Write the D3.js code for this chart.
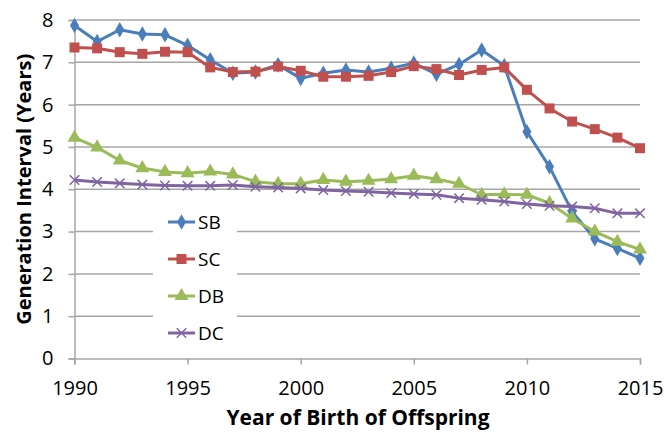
<!DOCTYPE html>
<html><head><meta charset="utf-8">
<script src="https://cdn.jsdelivr.net/npm/d3@7/dist/d3.min.js"></script>
<style>body{margin:0;background:#fff}svg{display:block}</style>
</head><body>
<svg id="c" width="666" height="433"></svg>
<script>
const years = d3.range(1990, 2016);
const seriesNames = ["SB","SC","DB","DC"];
const SB = [7.87,7.49,7.77,7.67,7.65,7.40,7.06,6.74,6.77,6.94,6.62,6.74,6.82,6.77,6.86,6.98,6.72,6.95,7.29,6.92,5.36,4.53,3.47,2.83,2.60,2.37];
const SC = [7.35,7.33,7.24,7.20,7.25,7.24,6.88,6.77,6.78,6.90,6.80,6.66,6.66,6.68,6.77,6.91,6.84,6.70,6.82,6.88,6.35,5.91,5.60,5.42,5.22,4.97];
const DB = [5.22,4.99,4.68,4.50,4.41,4.38,4.42,4.35,4.18,4.13,4.13,4.22,4.18,4.20,4.24,4.32,4.24,4.13,3.87,3.88,3.87,3.67,3.31,3.00,2.76,2.58];
const DC = [4.22,4.17,4.14,4.11,4.09,4.08,4.08,4.10,4.06,4.04,4.02,3.98,3.96,3.94,3.91,3.89,3.87,3.79,3.75,3.71,3.65,3.61,3.59,3.55,3.43,3.43];
const xTicks = [1990,1995,2000,2005,2010,2015];
const yTicks = [0,1,2,3,4,5,6,7,8];
const colors = ["#4A7EBB","#C0504D","#9BBB59","#8064A2"];
const symbols = ["diamond","square","triangle","cross"];
const data = [SB,SC,DB,DC];

const svg = d3.select("#c");
const x = d3.scaleLinear().domain([1990,2015]).range([74.5,640]);
const y = d3.scaleLinear().domain([0,8]).range([358.5,20]);
const font = "'Open Sans', 'Liberation Sans', sans-serif";

// gridlines
svg.append("g").selectAll("line").data(yTicks.filter(d=>d>0)).join("line")
  .attr("x1",x(1990)).attr("x2",x(2015)).attr("y1",d=>y(d)).attr("y2",d=>y(d))
  .attr("stroke","#a6a6a6").attr("stroke-width",1.5);

// axes
const yAxis = svg.append("g").attr("transform",`translate(${x(1990)},0)`)
  .call(d3.axisLeft(y).tickValues(yTicks).tickSize(6).tickPadding(15).tickFormat(d3.format("d")));
const xAxis = svg.append("g").attr("transform",`translate(0,${y(0)})`)
  .call(d3.axisBottom(x).tickValues(xTicks).tickSize(6).tickPadding(16).tickFormat(d3.format("d")));
[yAxis,xAxis].forEach(a=>{
  a.select(".domain").attr("stroke","#a6a6a6").attr("stroke-width",1.5);
  a.selectAll(".tick line").attr("stroke","#a6a6a6").attr("stroke-width",1.5);
  a.selectAll("text").attr("fill","#000").style("font-family",font).style("font-size","20px");
});

// legend box (white, hides gridlines)
svg.append("rect").attr("x",153).attr("y",200).attr("width",84).attr("height",148).attr("fill","#fff");

function sym(i){
  if(symbols[i]==="diamond") return d3.symbol(d3.symbolDiamond, 70)();
  if(symbols[i]==="square") return d3.symbol(d3.symbolSquare, 100)();
  if(symbols[i]==="triangle") return d3.symbol(d3.symbolTriangle, 85)();
  return d3.symbol(d3.symbolTimes, 60)();
}

const line = d3.line().x((d,i)=>x(years[i])).y(d=>y(d));
data.forEach((vals,i)=>{
  const g = svg.append("g");
  g.append("path").datum(vals).attr("d",line).attr("fill","none")
    .attr("stroke",colors[i]).attr("stroke-width",3).attr("stroke-linejoin","round");
  g.selectAll("path.m").data(vals).join("path").attr("class","m")
    .attr("transform",(d,j)=>`translate(${x(years[j])},${y(d)})`)
    .attr("d",sym(i))
    .attr("fill",symbols[i]==="cross"?"none":colors[i])
    .attr("stroke",colors[i]).attr("stroke-width",symbols[i]==="cross"?1.5:0);
});

// legend
const legY = [222, 259, 296, 333];
seriesNames.forEach((n,i)=>{
  const g = svg.append("g");
  g.append("line").attr("x1",168).attr("x2",195).attr("y1",legY[i]).attr("y2",legY[i])
    .attr("stroke",colors[i]).attr("stroke-width",3);
  g.append("path").attr("transform",`translate(181.5,${legY[i]})`).attr("d",sym(i))
    .attr("fill",symbols[i]==="cross"?"none":colors[i])
    .attr("stroke",colors[i]).attr("stroke-width",symbols[i]==="cross"?1.5:0);
  g.append("text").attr("x",198).attr("y",legY[i]).attr("dy","0.36em")
    .style("font-family",font).style("font-size","19px").text(n);
});

// titles
svg.append("text").attr("transform",`translate(24,${(y(0)+y(8))/2}) rotate(-90)`)
  .attr("text-anchor","middle").attr("dy","0.36em")
  .style("font-family",font).style("font-size","20px").style("font-weight","bold")
  .text("Generation Interval (Years)");
svg.append("text").attr("x",358).attr("y",425).attr("text-anchor","middle")
  .style("font-family",font).style("font-size","21px").style("font-weight","bold")
  .text("Year of Birth of Offspring");
</script>
</body></html>
